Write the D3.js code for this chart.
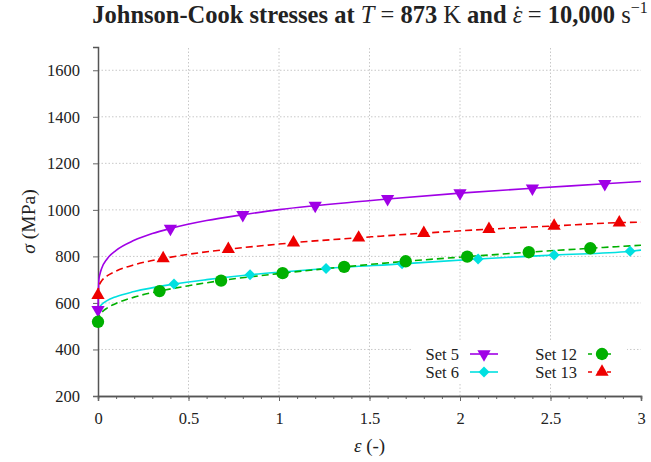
<!DOCTYPE html>
<html>
<head>
<meta charset="utf-8">
<script src="https://cdn.jsdelivr.net/npm/d3@7"></script>
<style>
  body { margin: 0; background: #fff; }
  svg text { font-family: "Liberation Serif", "DejaVu Serif", serif; fill: #222; }
</style>
</head>
<body>
<svg id="chart" width="651" height="462"></svg>
<script>
// strain values (-) and stresses (MPa)
var set5Curve = [[0,570],[0.005,700],[0.01,722],[0.02,748],[0.05,789],[0.1,826],[0.2,869],[0.3,898],[0.4,920],[0.6,954],[0.8,979],[1.0,1001],[1.2,1018],[1.6,1047],[2.0,1072],[2.4,1093],[2.8,1112],[3.0,1122]];
var set5Marks = [[0,570],[0.4,920],[0.8,979],[1.2,1018],[1.6,1047],[2.0,1072],[2.4,1093],[2.8,1112]];

var set6Curve = [[0,555],[0.005,577],[0.01,584],[0.02,593],[0.05,610],[0.1,627],[0.2,649],[0.42,681],[0.6,700],[0.84,721],[1.0,732],[1.26,748],[1.68,768],[2.1,789],[2.52,806],[2.94,822],[3.0,827]];
var set6Marks = [[0.42,681],[0.84,721],[1.26,748],[1.68,768],[2.1,789],[2.52,806],[2.94,822]];

var set12Curve = [[0,519],[0.005,541],[0.01,549],[0.02,559],[0.05,578],[0.1,598],[0.2,625],[0.34,651],[0.5,674],[0.68,696],[1.02,728],[1.36,755],[1.7,779],[2.04,799],[2.38,818],[2.72,835],[3.0,848]];
var set12Marks = [[0,519],[0.34,651],[0.68,696],[1.02,728],[1.36,755],[1.7,779],[2.04,799],[2.38,818],[2.72,835]];

var set13Curve = [[0,633],[0.005,673],[0.01,682],[0.02,695],[0.05,716],[0.1,737],[0.2,764],[0.36,791],[0.5,809],[0.72,831],[1.0,853],[1.08,859],[1.44,880],[1.8,900],[2.16,917],[2.52,931],[2.88,945],[3.0,947]];
var set13Marks = [[0,633],[0.36,791],[0.72,831],[1.08,859],[1.44,880],[1.8,900],[2.16,917],[2.52,931],[2.88,945]];

var xTicks = [0, 0.5, 1, 1.5, 2, 2.5, 3];
var yTicks = [200, 400, 600, 800, 1000, 1200, 1400, 1600];

var series = [
  { name: 'Set 5',  curve: set5Curve,  marks: set5Marks,  color: '#a000e6', dash: null,  symbol: 'down' },
  { name: 'Set 6',  curve: set6Curve,  marks: set6Marks,  color: '#00e0e0', dash: null,  symbol: 'diamond' },
  { name: 'Set 12', curve: set12Curve, marks: set12Marks, color: '#00b000', dash: '7,4', symbol: 'circle' },
  { name: 'Set 13', curve: set13Curve, marks: set13Marks, color: '#ee0000', dash: '7,4', symbol: 'up' }
];

var margin = { left: 98, right: 10, top: 47, bottom: 66 };
var width = 651, height = 462;
var serif = '"Liberation Serif", serif';

var svg = d3.select('#chart');

var x = d3.scaleLinear().domain([0, 3]).range([margin.left, width - margin.right]);
var y = d3.scaleLinear().domain([200, 1700]).range([height - margin.bottom, margin.top]);

/*
 * Builds the marker path for one series
 */
function markerPath(kind) {
  if (kind === 'circle') return d3.symbol().type(d3.symbolCircle).size(120)();
  if (kind === 'diamond') return d3.symbol().type(d3.symbolSquare).size(60)();
  return d3.symbol().type(d3.symbolTriangle).size(76)();
}
function markerRotate(kind) {
  if (kind === 'down') return 180;
  if (kind === 'diamond') return 45;
  return 0;
}

// grid
var grid = svg.append('g').attr('stroke', '#c8c8c8').attr('stroke-dasharray', '1.5,2').attr('stroke-width', 1);
grid.selectAll('line.gx')
  .data(xTicks.filter(d => d > 0 && d < 3))
  .enter().append('line')
  .attr('x1', d => x(d)).attr('x2', d => x(d))
  .attr('y1', y(200)).attr('y2', y(1700));
grid.selectAll('line.gy')
  .data(yTicks.filter(d => d > 200))
  .enter().append('line')
  .attr('x1', x(0)).attr('x2', x(3))
  .attr('y1', d => y(d)).attr('y2', d => y(d));

// axes
var xAxis = d3.axisBottom(x).tickValues(xTicks).tickSize(5).tickFormat(d3.format('~g'));
var xMinor = d3.axisBottom(x).tickValues(d3.range(0, 31).map(d => d / 10)).tickSize(3).tickFormat('');
var yAxis = d3.axisLeft(y).tickValues(yTicks).tickSize(5).tickFormat(d3.format('d'));

var gxm = svg.append('g').attr('transform', 'translate(0,' + y(200) + ')').call(xMinor);
var gx = svg.append('g').attr('transform', 'translate(0,' + y(200) + ')').call(xAxis);
var gy = svg.append('g').attr('transform', 'translate(' + x(0) + ',0)').call(yAxis);

[gx, gxm, gy].forEach(g => {
  g.attr('font-family', serif).attr('font-size', 16.5);
  g.select('.domain').attr('stroke', '#555').attr('stroke-width', 1.5);
  g.selectAll('.tick line').attr('stroke', '#666');
});
gx.selectAll('.tick text').attr('dy', '1.2em').attr('fill', '#222');
gy.selectAll('.tick text').attr('dx', '-0.6em').attr('fill', '#222');

// curves
var line = d3.line().x(d => x(d[0])).y(d => y(d[1])).curve(d3.curveMonotoneX);
var plot = svg.append('g');

series.forEach(s => {
  plot.append('path')
    .datum(s.curve)
    .attr('d', line)
    .attr('fill', 'none')
    .attr('stroke', s.color)
    .attr('stroke-width', 1.6)
    .attr('stroke-dasharray', s.dash);
});
series.forEach(s => {
  plot.selectAll(null)
    .data(s.marks)
    .enter().append('path')
    .attr('d', markerPath(s.symbol))
    .attr('fill', s.color)
    .attr('transform', d => 'translate(' + x(d[0]) + ',' + y(d[1]) + ') rotate(' + markerRotate(s.symbol) + ')');
});

// legend
var legend = svg.append('g');
legend.append('rect').attr('x', 412).attr('y', 340).attr('width', 215).attr('height', 42).attr('fill', '#fff');
var legendPos = [
  { tx: 459, lx: 470, y: 354 },
  { tx: 459, lx: 470, y: 372 },
  { tx: 577, lx: 588, y: 354 },
  { tx: 577, lx: 588, y: 372 }
];
series.forEach((s, i) => {
  var p = legendPos[i];
  legend.append('text')
    .attr('x', p.tx).attr('y', p.y).attr('dy', '0.35em')
    .attr('text-anchor', 'end').attr('font-size', 16.5)
    .text(s.name);
  legend.append('line')
    .attr('x1', p.lx).attr('x2', p.lx + 28)
    .attr('y1', p.y).attr('y2', p.y)
    .attr('stroke', s.color).attr('stroke-width', 1.6)
    .attr('stroke-dasharray', s.dash ? '4,5.5' : null);
  legend.append('path')
    .attr('d', markerPath(s.symbol))
    .attr('fill', s.color)
    .attr('transform', 'translate(' + (p.lx + 14) + ',' + p.y + ') rotate(' + markerRotate(s.symbol) + ')');
});

// title
var title = svg.append('text')
  .attr('x', 370).attr('y', 23)
  .attr('text-anchor', 'middle')
  .attr('font-size', 24.5);
title.append('tspan').attr('font-weight', 'bold').text('Johnson-Cook stresses at ');
title.append('tspan').attr('font-style', 'italic').text('T');
title.append('tspan').text(' = ');
title.append('tspan').attr('font-weight', 'bold').text('873');
title.append('tspan').text(' K ');
title.append('tspan').attr('font-weight', 'bold').text('and ');
title.append('tspan').attr('font-style', 'italic').text('\u03B5');
title.append('tspan').attr('dx', -9).text('\u02D9');
title.append('tspan').text(' = ');
title.append('tspan').attr('font-weight', 'bold').text('10,000');
title.append('tspan').text(' s');
title.append('tspan').attr('font-size', 16).attr('dy', -10).text('\u22121');

// axis labels
svg.append('text')
  .attr('x', x(1.5)).attr('y', 452)
  .attr('text-anchor', 'middle').attr('font-size', 19)
  .html('<tspan font-style="italic">\u03B5</tspan> (-)');
svg.append('text')
  .attr('transform', 'translate(35,' + y(950) + ') rotate(-90)')
  .attr('text-anchor', 'middle').attr('font-size', 19.5)
  .html('<tspan font-style="italic">\u03C3</tspan> (MPa)');
</script>
</body>
</html>
